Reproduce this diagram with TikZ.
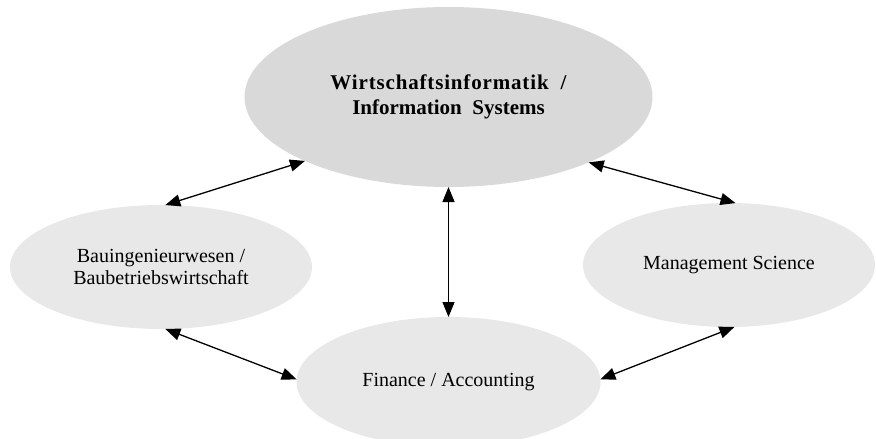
\documentclass[tikz,border=0pt]{standalone}
\usepackage{fontspec}
\setmainfont{Liberation Serif}
\usetikzlibrary{shapes.geometric,arrows.meta}
\definecolor{maingray}{HTML}{D9D9D9}
\definecolor{subgray}{HTML}{E8E8E8}
\begin{document}
\begin{tikzpicture}[x=1pt,y=-1pt,
  field/.style={ellipse,fill=subgray,draw=none,inner sep=0pt,outer sep=0pt,
    align=center,font=\fontsize{20}{22}\selectfont},
  mainfield/.style={field,fill=maingray,
    font=\fontsize{21}{25}\selectfont\bfseries},
  link/.style={line width=1.3pt,{Triangle[length=15pt,width=12pt]}-{Triangle[length=15pt,width=12pt]}}]
  \useasboundingbox (0,0) rectangle (876,439);
  % discipline ellipses
  \node[mainfield,minimum width=408pt,minimum height=180pt] (wi) at (448.5,97)
    {{\addfontfeatures{LetterSpace=4}Wirtschaftsinformatik}\hspace{12pt}/\\Information\ \ Systems};
  \node[field,minimum width=302pt,minimum height=124pt] (bau) at (161,267)
    {Bauingenieurwesen /\\Baubetriebswirtschaft};
  \node[field,minimum width=292pt,minimum height=124pt] (ms) at (729,265)
    {Management Science};
  \node[field,minimum width=304pt,minimum height=130pt] (fin) at (448.5,382)
    {Finance / Accounting};
  % relations between the fields
  \draw[link] (bau.86) -- (wi.204.4);
  \draw[link] (wi.335.8) -- (ms.84.6);
  \draw[link] (wi.270) -- (fin.90);
  \draw[link] (bau.274) -- (fin.179);
  \draw[link] (fin.1.5) -- (ms.275.5);
\end{tikzpicture}
\end{document}
